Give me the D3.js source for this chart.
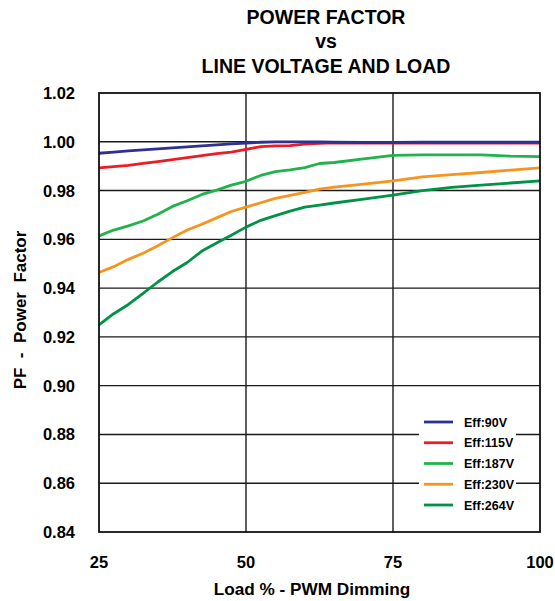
<!DOCTYPE html>
<html>
<head>
<meta charset="utf-8">
<script src="https://cdn.jsdelivr.net/npm/d3@7"></script>
<style>
  body { margin: 0; background: #fff; }
  text { font-family: "Liberation Sans", Arial, sans-serif; font-weight: bold; fill: #000; }
</style>
</head>
<body>
<script>
//chart data
var loads = [25, 27.5, 30, 32.5, 35, 37.5, 40, 42.5, 45, 47.5, 50, 52.5, 55, 57.5, 60, 62.5, 65, 70, 75, 80, 85, 90, 95, 100];
var pf90 = [0.9953, 0.9958, 0.9963, 0.9967, 0.9971, 0.9975, 0.9979, 0.9983, 0.9987, 0.9991, 0.9995, 0.9998, 1.0000, 1.0000, 1.0000, 0.9999, 0.9998, 0.9997, 0.9997, 0.9998, 0.9998, 0.9998, 0.9998, 0.9998];
var pf115 = [0.9893, 0.9898, 0.9903, 0.9911, 0.9919, 0.9927, 0.9935, 0.9943, 0.9951, 0.9958, 0.9969, 0.9980, 0.9983, 0.9984, 0.9990, 0.9994, 0.9996, 0.9995, 0.9995, 0.9995, 0.9995, 0.9995, 0.9995, 0.9995];
var pf187 = [0.9614, 0.9638, 0.9655, 0.9675, 0.9703, 0.9735, 0.9758, 0.9784, 0.9802, 0.9822, 0.9838, 0.9862, 0.9878, 0.9885, 0.9894, 0.9911, 0.9915, 0.9930, 0.9944, 0.9946, 0.9946, 0.9946, 0.9941, 0.9939];
var pf230 = [0.9464, 0.9488, 0.9518, 0.9543, 0.9574, 0.9607, 0.9638, 0.9662, 0.9688, 0.9714, 0.9732, 0.9750, 0.9768, 0.9780, 0.9793, 0.9806, 0.9814, 0.9826, 0.9840, 0.9856, 0.9865, 0.9874, 0.9884, 0.9893];
var pf264 = [0.9249, 0.9295, 0.9333, 0.9378, 0.9425, 0.9468, 0.9505, 0.9552, 0.9585, 0.9617, 0.9650, 0.9678, 0.9697, 0.9716, 0.9732, 0.9740, 0.9749, 0.9765, 0.9781, 0.9800, 0.9813, 0.9822, 0.9831, 0.9840];
var seriesNames = ["Eff:90V", "Eff:115V", "Eff:187V", "Eff:230V", "Eff:264V"];
var seriesColors = ["#2e3192", "#ed1c24", "#22b24c", "#f7941d", "#009245"];
var xTicks = [25, 50, 75, 100];
var yTicks = [0.84, 0.86, 0.88, 0.90, 0.92, 0.94, 0.96, 0.98, 1.00, 1.02];

var w = 555, h = 601;
var plotL = 99, plotR = 540, plotT = 93, plotB = 532;

window.onload = function(){
    var svg = d3.select("body").append("svg")
        .attr("width", w)
        .attr("height", h);

    var x = d3.scaleLinear().domain([25, 100]).range([plotL, plotR]);
    var y = d3.scaleLinear().domain([0.84, 1.02]).range([plotB, plotT]);

    //grid lines
    svg.append("g").selectAll("line")
        .data(yTicks.slice(1, -1))
        .enter().append("line")
        .attr("x1", plotL).attr("x2", plotR)
        .attr("y1", function(d){ return y(d); })
        .attr("y2", function(d){ return y(d); })
        .style("stroke", "#1a1a1a").style("stroke-width", 1.4);
    svg.append("g").selectAll("line")
        .data(xTicks.slice(1, -1))
        .enter().append("line")
        .attr("y1", plotT).attr("y2", plotB)
        .attr("x1", function(d){ return x(d); })
        .attr("x2", function(d){ return x(d); })
        .style("stroke", "#1a1a1a").style("stroke-width", 1.4);

    //the curves
    var series = [pf90, pf115, pf187, pf230, pf264];
    var line = d3.line()
        .x(function(d, i){ return x(loads[i]); })
        .y(function(d){ return y(d); });
    //draw back to front so the 90V line sits on top like the original
    [4, 3, 2, 1, 0].forEach(function(k){
        svg.append("path")
            .datum(series[k])
            .attr("d", line)
            .style("fill", "none")
            .style("stroke", seriesColors[k])
            .style("stroke-width", 2.8)
            .style("stroke-linejoin", "round");
    });

    //plot border
    svg.append("rect")
        .attr("x", plotL).attr("y", plotT)
        .attr("width", plotR - plotL).attr("height", plotB - plotT)
        .style("fill", "none").style("stroke", "#111").style("stroke-width", 1.8);

    //legend
    var lg = svg.append("g").attr("transform", "translate(419,410)");
    lg.append("rect").attr("width", 97).attr("height", 104).style("fill", "#fff");
    var ly = d3.scaleLinear().domain([0, 4]).range([12, 95]);
    lg.selectAll("line")
        .data(seriesNames)
        .enter().append("line")
        .attr("x1", 5).attr("x2", 34)
        .attr("y1", function(d, i){ return ly(i); })
        .attr("y2", function(d, i){ return ly(i); })
        .style("stroke", function(d, i){ return seriesColors[i]; })
        .style("stroke-width", 2.8);
    lg.selectAll("text")
        .data(seriesNames)
        .enter().append("text")
        .attr("x", 45)
        .attr("y", function(d, i){ return ly(i) + 4.5; })
        .style("font-size", "12.5px")
        .text(function(d){ return d; });

    //axis labels
    svg.append("g").selectAll("text")
        .data(yTicks)
        .enter().append("text")
        .attr("x", 75)
        .attr("y", function(d){ return y(d) + 6; })
        .attr("text-anchor", "end")
        .style("font-size", "16.5px")
        .text(function(d){ return d3.format(".2f")(d); });
    svg.append("g").selectAll("text")
        .data(xTicks)
        .enter().append("text")
        .attr("x", function(d){ return x(d); })
        .attr("y", 568)
        .attr("text-anchor", "middle")
        .style("font-size", "16.5px")
        .text(function(d){ return d; });

    svg.append("text")
        .attr("x", 312).attr("y", 595)
        .attr("text-anchor", "middle")
        .style("font-size", "17.2px")
        .text("Load % - PWM Dimming");
    svg.append("text")
        .attr("transform", "translate(26,310) rotate(-90)")
        .attr("text-anchor", "middle")
        .style("font-size", "17px")
        .style("white-space", "pre")
        .text("PF  -  Power  Factor");

    //title
    var title = ["POWER FACTOR", "vs", "LINE VOLTAGE AND LOAD"];
    svg.append("g").selectAll("text")
        .data(title)
        .enter().append("text")
        .attr("x", 326)
        .attr("y", function(d, i){ return 23.5 + i * 24.5; })
        .attr("text-anchor", "middle")
        .style("font-size", "19.5px")
        .text(function(d){ return d; });
};
</script>
</body>
</html>
